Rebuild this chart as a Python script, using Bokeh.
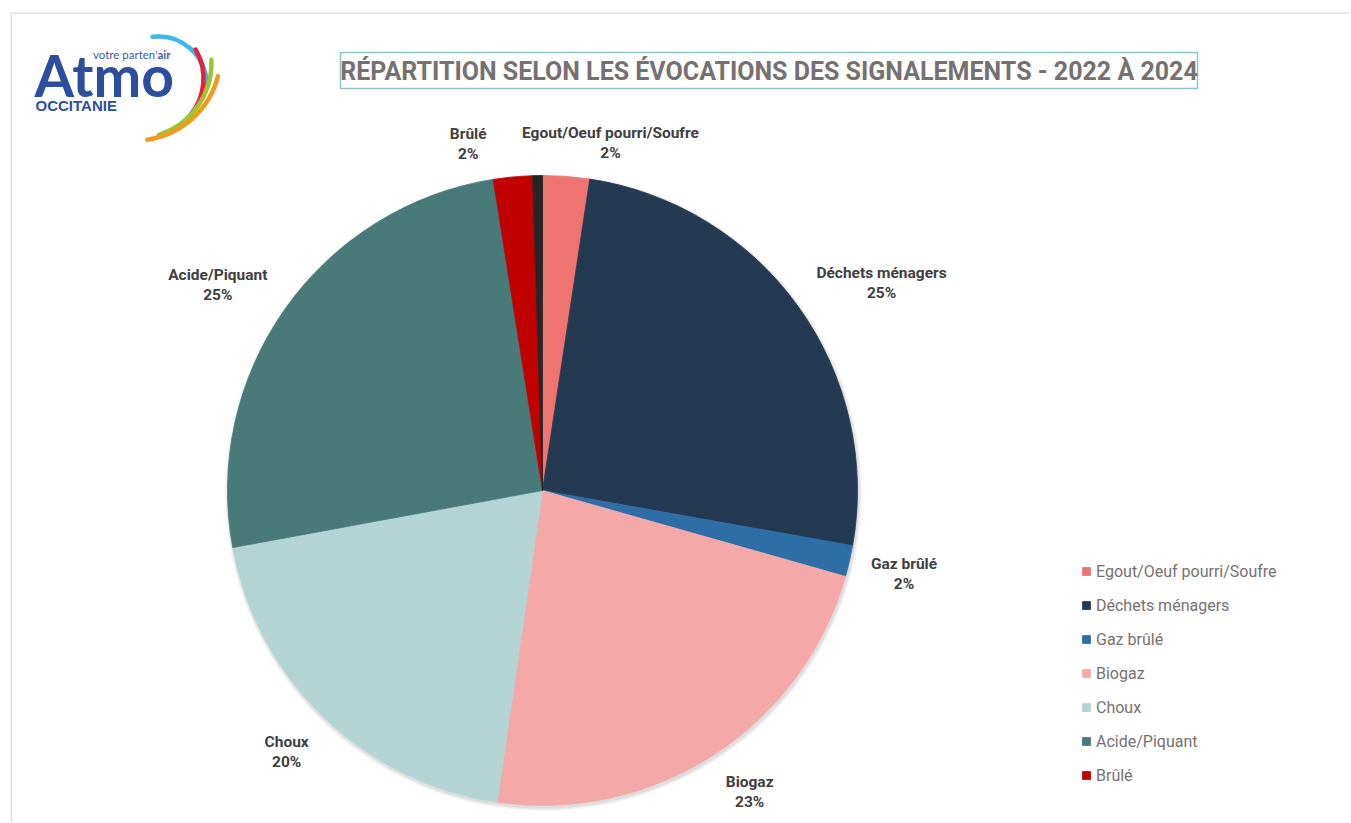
import math
from bokeh.plotting import figure
from bokeh.models import ColumnDataSource, Range1d, Legend, LegendItem, Span
from bokeh.core.properties import value
from bokeh.embed import file_html
from bokeh.resources import INLINE

# ---------------- data ----------------
categories = ["Egout/Oeuf pourri/Soufre", "Déchets ménagers", "Gaz brûlé", "Biogaz",
              "Choux", "Acide/Piquant", "Brûlé", ""]          # last slice: unlabeled thin dark slice
shares = [2.4, 25.4, 1.6, 22.9, 19.8, 25.4, 2.0, 0.5]          # percent
colors = ["#EE7470", "#243A52", "#2E6EA6", "#F4A9A8", "#B4D4D4", "#487A7A", "#C00000", "#262626"]
title_text = "RÉPARTITION SELON LES ÉVOCATIONS DES SIGNALEMENTS - 2022 À 2024"

# ---------------- layout helpers ----------------
W, H = 1350, 822
PAGE_BOTTOM = 822          # page y of frame bottom
def Y(py):                 # page y (down) -> data y (up)
    return PAGE_BOTTOM - py

FONT = "Roboto"
GRAY = "#767171"

p = figure(width=W, height=H, output_backend="svg", toolbar_location=None,
           x_range=Range1d(10, 1350), y_range=Range1d(0, 810),
           x_axis_type=None, y_axis_type=None,
           min_border_left=10, min_border_top=12, min_border_right=0, min_border_bottom=0)
p.grid.visible = False
p.outline_line_color = None
p.background_fill_color = "white"
p.border_fill_color = "white"

# chart-area border (top & left visible)
p.add_layout(Span(location=Y(12.5), dimension="width", line_color="#d9d9d9", line_width=1.5))
p.add_layout(Span(location=10.5, dimension="height", line_color="#d9d9d9", line_width=1.5))

# ---------------- pie ----------------
CX, CY = 542, Y(490)
R = 315
total = sum(shares)
starts, ends, cum = [], [], 0.0
for v in shares:
    starts.append(math.pi / 2 - 2 * math.pi * cum / total)
    cum += v
    ends.append(math.pi / 2 - 2 * math.pi * cum / total)

# soft shadow
for k, a in [(4, 0.025), (3, 0.03), (2, 0.035), (1, 0.04)]:
    p.circle(x=[CX + 1], y=[CY - 2], radius=R + k, radius_units="screen",
             fill_color="black", fill_alpha=a, line_color=None)

pie_src = ColumnDataSource(dict(x=[CX] * len(shares), y=[CY] * len(shares),
                                start=starts, end=ends, color=colors, name=categories))
wr = p.wedge(x="x", y="y", radius=R, radius_units="screen", start_angle="start", end_angle="end",
             direction="clock", fill_color="color", line_color="color", line_width=0.8, source=pie_src)

# ---------------- data labels ----------------
RL = 337          # distance of label anchor from the centre
BOX_PAD = 8       # label boxes that sit above / beside their anchor are nudged down a little
lab = []
cum = 0.0
for name, v in zip(categories, shares):
    mid = 2 * math.pi * (cum + v / 2) / total
    cum += v
    if not name:
        continue
    s, c = math.sin(mid), math.cos(mid)
    horiz = "left" if s > 0.35 else ("right" if s < -0.35 else "center")
    vert = "bottom" if c > 0.35 else ("top" if c < -0.35 else "center")
    y = CY + RL * c - (BOX_PAD if vert != "top" else 0)
    lab.append(dict(x=CX + RL * s, y=y, h=horiz, v=vert,
                    w=7.6 * len(name), text=f"{name}\n{round(v / total * 100)}%"))

# push apart horizontally-centred labels that would overlap
GAP = 32
for i in range(len(lab)):
    for j in range(len(lab)):
        a, b = lab[i], lab[j]
        if i < j and a["h"] == b["h"] == "center" and a["v"] == b["v"]:
            need = (a["w"] + b["w"]) / 2 + GAP - abs(a["x"] - b["x"])
            if need > 0:
                sgn = 1 if a["x"] >= b["x"] else -1
                a["x"] += sgn * need / 2
                b["x"] -= sgn * need / 2

def anchor_of(d):
    if d["v"] == "center" and d["h"] == "center":
        return "center"
    return f'{d["v"]}_{d["h"]}'

lab_src = ColumnDataSource(dict(x=[d["x"] for d in lab], y=[d["y"] for d in lab],
                                text=[d["text"] for d in lab], anchor=[anchor_of(d) for d in lab]))
p.text(x="x", y="y", text="text", anchor="anchor", source=lab_src, text_align="center",
       text_font=value(FONT), text_font_style="bold", text_font_size="15.5px",
       text_color="#404040", text_line_height=1.12)

# ---------------- legend ----------------
items = [LegendItem(label=n, renderers=[wr], index=i) for i, n in enumerate(categories) if n]
legend = Legend(items=items, location=(1071, 37), orientation="vertical",
                label_text_font=FONT, label_text_font_size="16px", label_text_color=GRAY,
                glyph_width=10, glyph_height=10, label_height=20, label_standoff=5,
                spacing=14, padding=0, margin=0, border_line_color=None,
                background_fill_alpha=0)
p.add_layout(legend, "center")

# ---------------- title box ----------------
p.quad(left=[340], right=[1197], top=[Y(52)], bottom=[Y(88)], fill_color=None,
       line_color="#93C4C5", line_width=1.5)
p.text(x=[768.5], y=[Y(70.5)], text=[title_text], text_align="center", text_baseline="middle",
       text_font=value(FONT), text_font_style="bold", text_font_size="25px", text_color=GRAY)

# ---------------- logo ----------------
BLUE = "#2D4E9E"
p.text(x=[34], y=[Y(74)], text=["Atmo"], text_baseline="middle",
       text_font=value("Lato"), text_font_style="bold", text_font_size="57px", text_color=BLUE)
p.text(x=[157], y=[Y(54)], text=["votre parten'"], text_align="right", text_baseline="middle",
       text_font=value("Lato"), text_font_size="11.5px", text_color="#3A5AA8")
p.text(x=[157], y=[Y(54)], text=["air"], text_align="left", text_baseline="middle",
       text_font=value("Lato"), text_font_style="bold", text_font_size="11.5px", text_color="#3A5AA8")
p.text(x=[35], y=[Y(104.5)], text=["OCCITANIE"], text_baseline="middle",
       text_font=value("Liberation Sans"), text_font_style="bold", text_font_size="15px", text_color=BLUE)
arc_cx = [158, 145, 135, 135]
arc_cy = [Y(84), Y(78), Y(62), Y(55)]
arc_r = [48, 58, 76, 85]
arc_a0 = [0, -40, -72, -82]
arc_a1 = [97, 30, 2, -14]
arc_col = ["#3AB8E8", "#E4243C", "#9CC531", "#F39A1E"]
p.arc(x=arc_cx, y=arc_cy, radius=arc_r, radius_units="screen",
      start_angle=[math.radians(a) for a in arc_a0], end_angle=[math.radians(a) for a in arc_a1],
      direction="anticlock", line_color=arc_col, line_width=4.5, line_cap="round")

open("out.html", "w").write(file_html(p, INLINE))
